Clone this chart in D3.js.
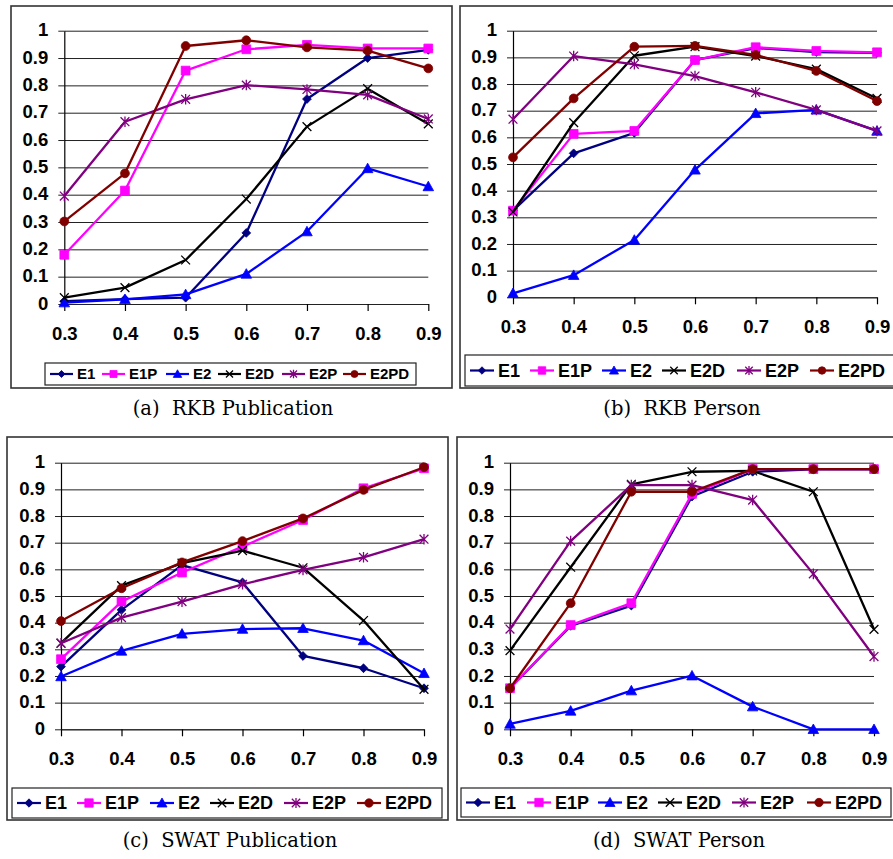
<!DOCTYPE html>
<html>
<head>
<meta charset="utf-8">
<script src="https://cdn.jsdelivr.net/npm/d3@7"></script>
<style>
  html, body { margin: 0; padding: 0; background: #fff; }
  svg { display: block; }
</style>
</head>
<body>
<svg id="chart" width="893" height="859"></svg>
<script>
// ---------- DATA ----------
const xTicks = ["0.3", "0.4", "0.5", "0.6", "0.7", "0.8", "0.9"];
const yTicks = [0, 0.1, 0.2, 0.3, 0.4, 0.5, 0.6, 0.7, 0.8, 0.9, 1];
const seriesNames = ["E1", "E1P", "E2", "E2D", "E2P", "E2PD"];
const captions = ["(a)  RKB Publication", "(b)  RKB Person", "(c)  SWAT Publication", "(d)  SWAT Person"];

// (a) RKB Publication
const rkbPubE1   = [0.010, 0.018, 0.023, 0.260, 0.750, 0.900, 0.930];
const rkbPubE1P  = [0.180, 0.415, 0.854, 0.932, 0.948, 0.935, 0.935];
const rkbPubE2   = [0.005, 0.017, 0.035, 0.110, 0.265, 0.496, 0.430];
const rkbPubE2D  = [0.023, 0.060, 0.161, 0.384, 0.649, 0.788, 0.659];
const rkbPubE2P  = [0.395, 0.667, 0.749, 0.801, 0.785, 0.765, 0.677];
const rkbPubE2PD = [0.302, 0.478, 0.944, 0.965, 0.939, 0.927, 0.862];

// (b) RKB Person
const rkbPerE1   = [0.325, 0.540, 0.617, 0.890, 0.935, 0.920, 0.917];
const rkbPerE1P  = [0.325, 0.613, 0.624, 0.890, 0.938, 0.924, 0.919];
const rkbPerE2   = [0.015, 0.083, 0.215, 0.478, 0.690, 0.703, 0.624];
const rkbPerE2D  = [0.320, 0.655, 0.906, 0.940, 0.905, 0.856, 0.746];
const rkbPerE2P  = [0.668, 0.905, 0.874, 0.830, 0.769, 0.703, 0.624];
const rkbPerE2PD = [0.525, 0.746, 0.940, 0.943, 0.909, 0.849, 0.736];

// (c) SWAT Publication
const swatPubE1   = [0.235, 0.448, 0.616, 0.551, 0.275, 0.229, 0.154];
const swatPubE1P  = [0.263, 0.479, 0.588, 0.685, 0.785, 0.904, 0.979];
const swatPubE2   = [0.198, 0.294, 0.358, 0.376, 0.379, 0.333, 0.210];
const swatPubE2D  = [0.323, 0.539, 0.623, 0.670, 0.606, 0.408, 0.150];
const swatPubE2P  = [0.323, 0.419, 0.479, 0.544, 0.598, 0.645, 0.713];
const swatPubE2PD = [0.406, 0.529, 0.626, 0.706, 0.791, 0.898, 0.983];

// (d) SWAT Person
const swatPerE1   = [0.154, 0.388, 0.464, 0.873, 0.966, 0.975, 0.975];
const swatPerE1P  = [0.154, 0.391, 0.473, 0.883, 0.976, 0.976, 0.976];
const swatPerE2   = [0.020, 0.069, 0.145, 0.201, 0.085, 0.000, 0.000];
const swatPerE2D  = [0.295, 0.608, 0.919, 0.966, 0.969, 0.891, 0.375];
const swatPerE2P  = [0.376, 0.706, 0.916, 0.916, 0.860, 0.583, 0.273];
const swatPerE2PD = [0.154, 0.473, 0.891, 0.891, 0.976, 0.976, 0.976];

const panelValues = [
  [rkbPubE1, rkbPubE1P, rkbPubE2, rkbPubE2D, rkbPubE2P, rkbPubE2PD],
  [rkbPerE1, rkbPerE1P, rkbPerE2, rkbPerE2D, rkbPerE2P, rkbPerE2PD],
  [swatPubE1, swatPubE1P, swatPubE2, swatPubE2D, swatPubE2P, swatPubE2PD],
  [swatPerE1, swatPerE1P, swatPerE2, swatPerE2D, swatPerE2P, swatPerE2PD]
];

// ---------- STYLE / LAYOUT ----------
const colors = ["#000080", "#FF00FF", "#0000FF", "#000000", "#800080", "#800000"];
const markerKinds = ["diamond", "square", "triangle", "x", "star", "circle"];

const layouts = [
  { frame: [11, 6, 441, 382], x0: 64.3, x1: 428.3, yTop: 30.7, yBot: 304,
    legend: [45, 363, 371, 22], items: [50, 102, 166, 218, 282, 343], lfont: 15, lline: 23, msc: 0.8,
    cap: [233, 415] },
  { frame: [460, 6, 440, 382], x0: 513, x1: 877, yTop: 30.7, yBot: 297.3,
    legend: [465, 355, 440, 31], items: [470, 530, 602, 662, 737, 810], lfont: 18, lline: 24, msc: 0.85,
    cap: [682, 415] },
  { frame: [7, 437, 441, 383], x0: 61, x1: 424, yTop: 462.7, yBot: 729.3,
    legend: [12, 788, 430, 30], items: [17, 77, 150, 210, 284, 357], lfont: 18, lline: 24, msc: 0.95,
    cap: [230, 847] },
  { frame: [457, 437, 440, 383], x0: 510, x1: 874, yTop: 462.7, yBot: 729.3,
    legend: [461, 788, 430, 29], items: [466, 527, 598, 658, 732, 807], lfont: 18, lline: 24, msc: 0.95,
    cap: [679, 847] }
];

const svg = d3.select("#chart");
const FONT = "'Liberation Sans', Arial, sans-serif";

function markerPath(kind, s) {
  const r = 4.4 * s;
  switch (kind) {
    case "diamond": return `M0,${-r}L${r},0L0,${r}L${-r},0Z`;
    case "square": return `M${-r},${-r}H${r}V${r}H${-r}Z`;
    case "triangle": { const t = r * 1.2; return `M0,${-t}L${t},${t * 0.8}L${-t},${t * 0.8}Z`; }
    case "x": return `M${-r},${-r}L${r},${r}M${-r},${r}L${r},${-r}`;
    case "star": return `M${-r},${-r}L${r},${r}M${-r},${r}L${r},${-r}M0,${-r * 1.2}L0,${r * 1.2}`;
    case "circle": return d3.symbol(d3.symbolCircle, Math.PI * r * r)();
  }
}

function drawMarker(g, kind, color, x, y, s) {
  const filled = !(kind === "x" || kind === "star");
  g.append("path")
    .attr("transform", `translate(${x},${y})`)
    .attr("d", markerPath(kind, s))
    .attr("fill", filled ? color : "none")
    .attr("stroke", color)
    .attr("stroke-width", filled ? 0.8 : 1.3);
}

layouts.forEach((L, pi) => {
  const g = svg.append("g");
  const [fx, fy, fw, fh] = L.frame;
  g.append("rect").attr("x", fx).attr("y", fy).attr("width", fw).attr("height", fh)
    .attr("fill", "#fff").attr("stroke", "#333").attr("stroke-width", 1.6);

  const x = d3.scalePoint().domain(xTicks).range([L.x0, L.x1]).padding(0);
  const y = d3.scaleLinear().domain([0, 1]).range([L.yBot, L.yTop]);

  // gridlines
  const grid = g.append("g").attr("transform", `translate(${L.x0},0)`)
    .call(d3.axisLeft(y).tickValues(yTicks).tickSize(-(L.x1 - L.x0)).tickFormat(""));
  grid.select(".domain").remove();
  grid.selectAll("line").attr("stroke", "#222").attr("stroke-width", 1);

  // y axis
  const ya = g.append("g").attr("transform", `translate(${L.x0},0)`)
    .call(d3.axisLeft(y).tickValues(yTicks).tickSizeInner(6).tickSizeOuter(0).tickPadding(10)
      .tickFormat(d => d3.format("")(+d.toFixed(1))));
  ya.select(".domain").attr("stroke", "#000").attr("stroke-width", 1.2);
  ya.selectAll("line").attr("stroke", "#222");
  ya.selectAll("text").attr("font-family", FONT).attr("font-weight", "bold")
    .attr("font-size", 18.5).attr("fill", "#000").attr("dy", "0.28em");

  // x axis
  const xa = g.append("g").attr("transform", `translate(0,${L.yBot})`)
    .call(d3.axisBottom(x).tickSizeInner(7).tickSizeOuter(0).tickPadding(16));
  xa.select(".domain").attr("stroke", "#222").attr("stroke-width", 1);
  xa.selectAll("line").attr("stroke", "#000").attr("stroke-width", 1.2);
  xa.selectAll("text").attr("font-family", FONT).attr("font-weight", "bold")
    .attr("font-size", 18.5).attr("fill", "#000");

  // series
  const vals = panelValues[pi];
  const line = d3.line().x((d, i) => x(xTicks[i])).y(d => y(d));
  const sg = g.append("g");
  vals.forEach((arr, si) => {
    sg.append("path").attr("d", line(arr)).attr("fill", "none")
      .attr("stroke", colors[si]).attr("stroke-width", 2.3).attr("stroke-linejoin", "round");
    arr.forEach((v, i) => drawMarker(sg, markerKinds[si], colors[si], x(xTicks[i]), y(v), 1));
  });

  // legend
  const [lx, ly, lw, lh] = L.legend;
  const lg = g.append("g");
  lg.append("rect").attr("x", lx).attr("y", ly).attr("width", lw).attr("height", lh)
    .attr("fill", "#fff").attr("stroke", "#222").attr("stroke-width", 1.2);
  const cy = ly + lh / 2;
  seriesNames.forEach((name, si) => {
    const sx = L.items[si];
    lg.append("line").attr("x1", sx).attr("x2", sx + L.lline).attr("y1", cy).attr("y2", cy)
      .attr("stroke", colors[si]).attr("stroke-width", 2.2);
    drawMarker(lg, markerKinds[si], colors[si], sx + L.lline / 2, cy, L.msc);
    lg.append("text").attr("x", sx + L.lline + 4).attr("y", cy).attr("dy", "0.36em")
      .attr("font-family", FONT).attr("font-weight", "bold").attr("font-size", L.lfont)
      .attr("fill", "#000").text(name);
  });

  // caption
  svg.append("text").attr("x", L.cap[0]).attr("y", L.cap[1]).attr("text-anchor", "middle")
    .attr("font-family", "'DejaVu Serif', 'Liberation Serif', serif").attr("font-size", 19.5)
    .attr("fill", "#000").attr("xml:space", "preserve").style("white-space", "pre").text(captions[pi]);
});
</script>
</body>
</html>
